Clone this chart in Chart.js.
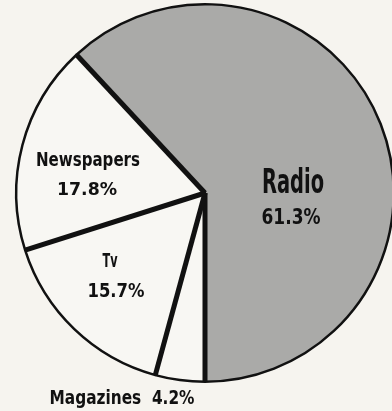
<!DOCTYPE html>
<html>
<head>
<meta charset="utf-8">
<script src="https://cdn.jsdelivr.net/npm/chart.js@4"></script>
<style>
  html, body { margin: 0; padding: 0; background: #f6f4ef; overflow: hidden; }
  #wrap { position: absolute; left: 0; top: 0; width: 410px; height: 411px; }
</style>
</head>
<body>
<div id="wrap"><canvas id="pieChart" width="410" height="411"></canvas></div>
<script>
// Shares of the pie, clockwise from Radio
const labels = ["Radio", "Magazines", "Tv", "Newspapers"];
const shares = [61.3, 4.2, 15.7, 17.8];
const sliceColors = ["#aaaaa8", "#f8f7f3", "#f8f7f3", "#f8f7f3"];

const total = shares.reduce((s, v) => s + v, 0);
// Radio ends at the bottom (180 deg)
const startRotation = 180 - (shares[0] / total) * 360;

// Thick black dividers between slices
const dividers = {
  id: "dividers",
  afterDatasetsDraw(chart) {
    const ctx = chart.ctx;
    const arcs = chart.getDatasetMeta(0).data;
    ctx.save();
    ctx.strokeStyle = "#111";
    ctx.lineWidth = 5;
    ctx.lineCap = "butt";
    arcs.forEach((arc) => {
      const r = arc.outerRadius;
      ctx.beginPath();
      ctx.moveTo(arc.x, arc.y);
      ctx.lineTo(arc.x + r * Math.cos(arc.startAngle), arc.y + r * Math.sin(arc.startAngle));
      ctx.stroke();
    });
    ctx.restore();
  },
};

// condensed bold text, squeezed to a given width
function drawFit(ctx, text, cx, baseline, size, width) {
  ctx.font = 'bold ' + size + 'px "DejaVu Sans Condensed", "DejaVu Sans", sans-serif';
  const w = ctx.measureText(text).width;
  const sx = width / w;
  ctx.save();
  ctx.translate(cx, baseline);
  ctx.scale(sx, 1);
  ctx.fillText(text, 0, 0);
  ctx.restore();
}

// Slice labels, printed as on the original
const sliceLabels = {
  id: "sliceLabels",
  afterDraw(chart) {
    const ctx = chart.ctx;
    ctx.save();
    ctx.fillStyle = "#111";
    ctx.textAlign = "center";
    ctx.textBaseline = "alphabetic";
    const pct = (i) => shares[i].toFixed(1) + "%";

    drawFit(ctx, labels[0], 293, 193, 34, 62);
    drawFit(ctx, pct(0), 291, 224, 22, 59);

    drawFit(ctx, labels[3], 88, 166, 20, 104);
    drawFit(ctx, pct(3), 87, 195, 18, 60);

    drawFit(ctx, labels[2], 110, 267, 19, 15);
    drawFit(ctx, pct(2), 116, 297, 20, 57);

    drawFit(ctx, labels[1] + "  " + pct(1), 122, 404, 20, 145);
    ctx.restore();
  },
};

new Chart(document.getElementById("pieChart"), {
  type: "pie",
  data: {
    labels: labels,
    datasets: [
      {
        data: shares,
        backgroundColor: sliceColors,
        borderColor: "#111",
        borderWidth: 2.5,
      },
    ],
  },
  options: {
    responsive: false,
    animation: false,
    rotation: startRotation,
    layout: { padding: { left: 15, right: 15, top: 3, bottom: 28 } },
    plugins: {
      legend: { display: false },
      tooltip: { enabled: false },
    },
  },
  plugins: [dividers, sliceLabels],
});
</script>
</body>
</html>
